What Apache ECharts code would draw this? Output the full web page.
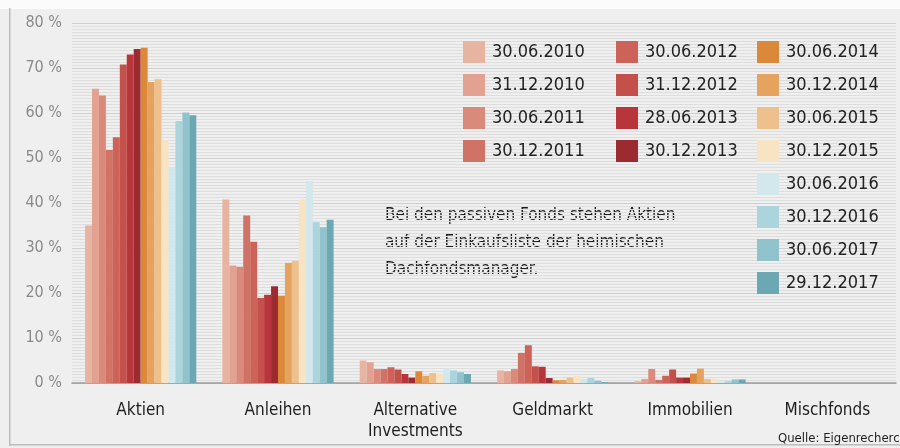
<!DOCTYPE html>
<html>
<head>
<meta charset="utf-8">
<script src="https://cdn.jsdelivr.net/npm/echarts@6/dist/echarts.min.js"></script>
<style>
  html, body { margin: 0; padding: 0; background: #f2f2f2; }
  #chart { width: 900px; height: 448px; }
</style>
</head>
<body>
<div id="chart"></div>
<script>
  // Kategorien (Assetklassen)
  const categories = ['Aktien', 'Anleihen', 'Alternative\nInvestments', 'Geldmarkt', 'Immobilien', 'Mischfonds']
  const yTicks = [0, 10, 20, 30, 40, 50, 60, 70, 80]

  // Stichtage
  const dates = [
    '30.06.2010', '31.12.2010', '30.06.2011', '30.12.2011',
    '30.06.2012', '31.12.2012', '28.06.2013', '30.12.2013',
    '30.06.2014', '30.12.2014', '30.06.2015', '30.12.2015',
    '30.06.2016', '30.12.2016', '30.06.2017', '29.12.2017'
  ]
  const color_list = [
    '#e8b4a2', '#e3a291', '#da8a7a', '#d07265',
    '#cc6258', '#c4504b', '#b8363b', '#9c2b31',
    '#dc883b', '#e6a35f', '#eec08b', '#f8e3c3',
    '#d3e8ec', '#acd4dc', '#91c3cd', '#6ba8b3'
  ]

  // Anteile in % je Stichtag: Aktien, Anleihen, Alternative, Geldmarkt, Immobilien, Mischfonds
  const v_2010_06 = [35.0, 40.8, 5.0, 2.8, 0.4, 0]
  const v_2010_12 = [65.4, 26.1, 4.6, 2.6, 0.9, 0]
  const v_2011_06 = [63.9, 25.8, 3.1, 3.1, 3.1, 0]
  const v_2011_12 = [51.8, 37.2, 3.1, 6.7, 0.7, 0]
  const v_2012_06 = [54.6, 31.4, 3.5, 8.4, 1.6, 0]
  const v_2012_12 = [70.8, 18.9, 3.0, 3.7, 3.0, 0]
  const v_2013_06 = [73.0, 19.6, 2.0, 3.6, 1.2, 0]
  const v_2013_12 = [74.2, 21.5, 1.2, 1.1, 1.2, 0]
  const v_2014_06 = [74.5, 19.4, 2.6, 0.6, 2.1, 0]
  const v_2014_12 = [66.9, 26.7, 1.6, 0.7, 3.2, 0]
  const v_2015_06 = [67.5, 27.1, 2.2, 1.2, 0.9, 0]
  const v_2015_12 = [53.9, 40.8, 2.1, 1.6, 0.9, 0]
  const v_2016_06 = [48.0, 44.9, 3.3, 0.9, 0.3, 0]
  const v_2016_12 = [58.2, 35.7, 2.8, 1.1, 0.4, 0]
  const v_2017_06 = [60.1, 34.6, 2.4, 0.5, 0.8, 0]
  const v_2017_12 = [59.5, 36.3, 2.0, 0.2, 0.8, 0]

  const values = [
    v_2010_06, v_2010_12, v_2011_06, v_2011_12,
    v_2012_06, v_2012_12, v_2013_06, v_2013_12,
    v_2014_06, v_2014_12, v_2015_06, v_2015_12,
    v_2016_06, v_2016_12, v_2017_06, v_2017_12
  ]

  const font = '"Liberation Sans Narrow", "DejaVu Sans Condensed", "Liberation Sans", sans-serif'

  const chart = echarts.init(document.getElementById('chart'))

  const series = []
  for (let i = 0; i < dates.length; i++) {
    series.push({
      name: dates[i],
      type: 'bar',
      barGap: '0%',
      barCategoryGap: '19%',
      itemStyle: { color: color_list[i] },
      data: values[i]
    })
  }

  const legendBase = {
    orient: 'vertical',
    padding: 0,
    itemWidth: 22,
    itemHeight: 22,
    itemGap: 11,
    icon: 'rect',
    selectedMode: false,
    textStyle: { color: '#222', fontSize: 18, fontFamily: font, padding: [0, 0, 0, 2] }
  }

  chart.setOption({
    backgroundColor: '#efefef',
    animation: false,
    grid: { left: 72, right: 4, top: 23, bottom: 65 },
    legend: [
      Object.assign({ left: 463, top: 41, data: dates.slice(0, 4) }, legendBase),
      Object.assign({ left: 616, top: 41, data: dates.slice(4, 8) }, legendBase),
      Object.assign({ left: 757, top: 41, data: dates.slice(8, 16) }, legendBase)
    ],
    xAxis: {
      type: 'category',
      data: categories,
      axisTick: { show: false },
      axisLine: { lineStyle: { color: '#9a9a9a', width: 1.5 } },
      axisLabel: {
        color: '#1e1e1e',
        fontSize: 17,
        fontFamily: font,
        margin: 17,
        lineHeight: 21,
        interval: 0
      }
    },
    yAxis: {
      type: 'value',
      min: 0,
      max: 80,
      interval: 10,
      axisLine: { show: false },
      axisTick: { show: false },
      axisLabel: {
        color: '#8a8a8a',
        fontSize: 16,
        fontFamily: font,
        margin: 10,
        formatter: function (v) { return yTicks.indexOf(v) >= 0 ? v + ' %' : '' }
      },
      splitLine: { lineStyle: { color: '#cfcfcf', width: 1 } },
      minorTick: { show: false, splitNumber: 15 },
      minorSplitLine: { show: true, lineStyle: { color: '#dedede', width: 1 } }
    },
    graphic: [
      { type: 'rect', left: 0, top: 0, shape: { width: 900, height: 9 }, style: { fill: '#fbfbfb' } },
      { type: 'rect', left: 9, top: 8, shape: { width: 1.5, height: 438 }, style: { fill: '#bdbdbd' } },
      { type: 'rect', left: 9, top: 444, shape: { width: 891, height: 1.5 }, style: { fill: '#bdbdbd' } },
      {
        type: 'text',
        left: 385,
        top: 202,
        style: {
          text: 'Bei den passiven Fonds stehen Aktien\nauf der Einkaufsliste der heimischen\nDachfondsmanager.',
          fill: '#1e1e1e',
          font: '17px ' + font,
          lineHeight: 27
        }
      },
      {
        type: 'text',
        left: 778,
        top: 432,
        style: { text: 'Quelle: Eigenrecherch', fill: '#1e1e1e', font: '13px ' + font }
      }
    ],
    series: series
  })
</script>
</body>
</html>
